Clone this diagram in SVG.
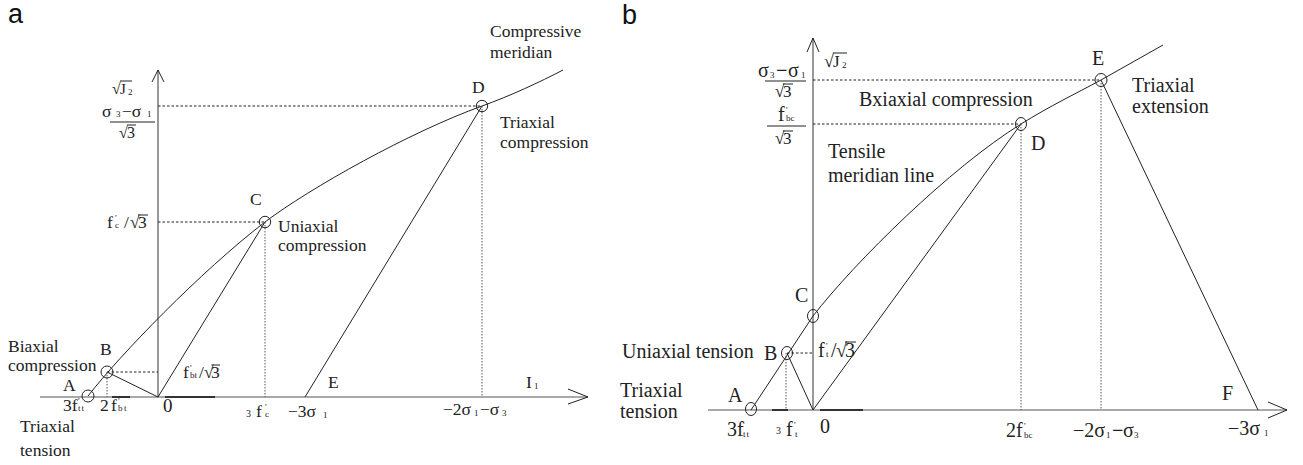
<svg xmlns="http://www.w3.org/2000/svg" width="1303" height="465" viewBox="0 0 1303 465">
<style>
text{font-family:"Liberation Serif","Times New Roman","DejaVu Serif",serif;fill:#222}
.pa text{font-size:17.5px}
.pb text{font-size:20px}
text.lbl{font-family:"Liberation Sans",Arial,sans-serif;font-size:27px;fill:#111}
text.s{font-size:9px}
text.sb{font-size:10px}
.ln{stroke:#222;stroke-width:1;fill:none}
.ax{stroke:#555;stroke-width:1.2;fill:none}
.axd{stroke:#333;stroke-width:2}
.ds{stroke:#222;stroke-width:1;stroke-dasharray:2.5 2}
.dt{stroke:#555;stroke-width:1;stroke-dasharray:1.5 1.5}
.c{fill:none;stroke:#222;stroke-width:1}
</style>
<rect width="1303" height="465" fill="#fff"/>

<g id="panel-a" class="pa">
  <text class="lbl" x="8" y="23">a</text>
  <g id="a-connectors">
    <line class="ax" x1="158" y1="397" x2="158" y2="70"/>
    <polyline class="ln" points="152,82 158,70 164,82"/>
    <line class="ax" x1="40" y1="397" x2="588" y2="397"/>
    <line class="axd" x1="112" y1="397" x2="130" y2="397"/>
    <line class="axd" x1="165" y1="397" x2="215" y2="397"/>
    <polyline class="ln" points="568,389 588,397 568,404"/>
    <path class="ln" d="M88,396 C120,355 200,272 265,222 C310,188 410,132 482,106 C510,96 540,82 563,70"/>
    <line class="ln" x1="107" y1="372" x2="158" y2="397"/>
    <line class="ln" x1="158" y1="397" x2="265" y2="222"/>
    <line class="ln" x1="305" y1="397" x2="482" y2="106"/>
    <line class="ds" x1="158" y1="106" x2="482" y2="106"/>
    <line class="ds" x1="158" y1="222" x2="265" y2="222"/>
    <line class="ds" x1="107" y1="372" x2="158" y2="372"/>
    <line class="dt" x1="107" y1="372" x2="107" y2="397"/>
    <line class="dt" x1="265" y1="222" x2="265" y2="397"/>
    <line class="dt" x1="482" y1="106" x2="482" y2="397"/>
  </g>
  <g id="a-A"><circle class="c" cx="88" cy="396" r="6"/><text x="63" y="391">A</text></g>
  <g id="a-B"><circle class="c" cx="107" cy="372" r="6"/><text x="100" y="355">B</text></g>
  <g id="a-C"><circle class="c" cx="265" cy="222" r="5.7"/><text x="250" y="205">C</text></g>
  <g id="a-D"><circle class="c" cx="482" cy="106" r="5.7"/><text x="472" y="93">D</text></g>
  <g id="a-E"><text x="328" y="388">E</text></g>
  <g id="a-labels">
    <text x="490" y="37">Compressive</text>
    <text x="490" y="58">meridian</text>
    <text x="500" y="128">Triaxial</text>
    <text x="500" y="148">compression</text>
    <text x="278" y="232">Uniaxial</text>
    <text x="278" y="251">compression</text>
    <text x="8" y="352">Biaxial</text>
    <text x="8" y="371">compression</text>
    <text x="20" y="432">Triaxial</text>
    <text x="20" y="456">tension</text>
  </g>
  <g id="a-math">
    <text x="112" y="94" style="font-size:16px">√</text>
    <line class="ln" x1="120" y1="81" x2="132" y2="81"/>
    <text x="120" y="94" style="font-size:15px">J</text>
    <text class="s" x="128" y="95">2</text>
    <text x="102" y="117">σ</text>
    <text class="s" x="116" y="117">3</text>
    <text x="122" y="117">−σ</text>
    <text class="s" x="147" y="117">1</text>
    <line class="ln" x1="110" y1="122" x2="155" y2="122"/>
    <text x="119" y="138" style="font-size:16px">√</text>
    <line class="ln" x1="127" y1="125" x2="136" y2="125"/>
    <text x="127" y="138" style="font-size:16px">3</text>
    <text x="107" y="228">f</text>
    <text class="s" x="115" y="221">'</text>
    <text class="s" x="115" y="228">c</text>
    <text x="124" y="228">/</text>
    <text x="130" y="228">√</text>
    <line class="ln" x1="138" y1="215" x2="148" y2="215"/>
    <text x="138" y="228">3</text>
    <text x="183" y="378">f</text>
    <text class="s" x="190" y="371">'</text>
    <text class="s" x="190" y="378">bt</text>
    <text x="199" y="378">/</text>
    <text x="204" y="378">√</text>
    <line class="ln" x1="211.5" y1="365" x2="220" y2="365"/>
    <text x="211" y="378">3</text>
    <text x="63" y="411">3f</text>
    <text class="s" x="78" y="404">'</text>
    <text class="s" x="78" y="411" letter-spacing="1">tt</text>
    <text x="100" y="411">2</text>
    <text x="111" y="411">f</text>
    <text class="s" x="118" y="404">'</text>
    <text class="s" x="118" y="411" letter-spacing="1.5">bt</text>
    <text x="163" y="412" style="font-size:19px">0</text>
    <text class="sb" x="246" y="417">3</text>
    <text x="256" y="417">f</text>
    <text class="s" x="265" y="410">'</text>
    <text class="s" x="265" y="417">c</text>
    <text x="288" y="417">−3σ</text>
    <text class="s" x="323" y="418">1</text>
    <text x="443" y="415">−2σ</text>
    <text class="s" x="474" y="416">1</text>
    <text x="480" y="415">−σ</text>
    <text class="s" x="502" y="416">3</text>
    <text x="526" y="388">I</text>
    <text class="s" x="534" y="389">1</text>
  </g>
</g>

<g id="panel-b" class="pb">
  <text class="lbl" x="622" y="24">b</text>
  <g id="b-connectors">
    <line class="ax" x1="813" y1="410" x2="813" y2="38"/>
    <polyline class="ln" points="807,52 813,38 819,52"/>
    <line class="ax" x1="708" y1="410" x2="1287" y2="410"/>
    <line class="axd" x1="772" y1="410" x2="788" y2="410"/>
    <line class="axd" x1="820" y1="410" x2="863" y2="410"/>
    <polyline class="ln" points="1268,402 1287,410 1268,418"/>
    <path class="ln" d="M751,410 L813,316 C855,262 950,168 1021,124 C1050,106 1075,94 1101,80 L1163,45"/>
    <line class="ln" x1="787" y1="353" x2="813" y2="410"/>
    <line class="ln" x1="813" y1="410" x2="1021" y2="124"/>
    <line class="ln" x1="1101" y1="80" x2="1258" y2="410"/>
    <line class="ds" x1="813" y1="80" x2="1101" y2="80"/>
    <line class="ds" x1="813" y1="124" x2="1021" y2="124"/>
    <line class="ds" x1="787" y1="353" x2="813" y2="353"/>
    <line class="dt" x1="786" y1="353" x2="786" y2="410"/>
    <line class="dt" x1="1021" y1="124" x2="1021" y2="410"/>
    <line class="dt" x1="1101" y1="80" x2="1101" y2="410"/>
  </g>
  <g id="b-A"><ellipse class="c" cx="751" cy="409" rx="5.5" ry="6.5"/><text x="728" y="402">A</text></g>
  <g id="b-B"><ellipse class="c" cx="787" cy="353" rx="5.5" ry="6.5"/><text x="764" y="360">B</text></g>
  <g id="b-C"><ellipse class="c" cx="813" cy="316" rx="5.5" ry="6.5"/><text x="795" y="302">C</text></g>
  <g id="b-D"><ellipse class="c" cx="1021" cy="124" rx="5.5" ry="6.5"/><text x="1031" y="150">D</text></g>
  <g id="b-E"><ellipse class="c" cx="1101" cy="80" rx="6" ry="6.5"/><text x="1092" y="65">E</text></g>
  <g id="b-F"><text x="1222" y="400">F</text></g>
  <g id="b-labels">
    <text x="859" y="106">Bxiaxial compression</text>
    <text x="828" y="158">Tensile</text>
    <text x="828" y="182">meridian line</text>
    <text x="1132" y="92">Triaxial</text>
    <text x="1132" y="113">extension</text>
    <text x="622" y="358">Uniaxial tension</text>
    <text x="620" y="397">Triaxial</text>
    <text x="620" y="418">tension</text>
  </g>
  <g id="b-math">
    <text x="824" y="67" style="font-size:18px">√</text>
    <line class="ln" x1="833" y1="53" x2="847" y2="53"/>
    <text x="833" y="67" style="font-size:17px">J</text>
    <text class="s" x="842" y="68">2</text>
    <text x="758" y="77">σ</text>
    <text class="s" x="770" y="78">3</text>
    <text x="776" y="77" style="font-weight:bold">−</text>
    <text x="788" y="77">σ</text>
    <text class="s" x="801" y="78">1</text>
    <line class="ln" x1="765" y1="81" x2="806" y2="81"/>
    <text x="775" y="97" style="font-size:17px">√</text>
    <line class="ln" x1="783" y1="84" x2="793" y2="84"/>
    <text x="783" y="97" style="font-size:17px">3</text>
    <text x="778" y="121">f</text>
    <text class="s" x="786" y="113">'</text>
    <text class="s" x="786" y="121">bc</text>
    <line class="ln" x1="767" y1="126" x2="806" y2="126"/>
    <text x="775" y="144" style="font-size:17px">√</text>
    <line class="ln" x1="783" y1="131" x2="793" y2="131"/>
    <text x="783" y="144" style="font-size:17px">3</text>
    <text x="818" y="357">f</text>
    <text class="s" x="826" y="349">'</text>
    <text class="s" x="826" y="357">t</text>
    <text x="831" y="357">/</text>
    <text x="836" y="357">√</text>
    <line class="ln" x1="845" y1="342" x2="856" y2="342"/>
    <text x="845" y="357">3</text>
    <text x="727" y="436">3f</text>
    <text class="s" x="743" y="428">'</text>
    <text class="s" x="743" y="437" letter-spacing="1">tt</text>
    <text class="sb" x="776" y="434">3</text>
    <text x="786" y="436">f</text>
    <text class="s" x="794" y="428">'</text>
    <text class="s" x="795" y="437">t</text>
    <text x="820" y="433">0</text>
    <text x="1006" y="437">2f</text>
    <text class="s" x="1024" y="429">'</text>
    <text class="s" x="1024" y="438">bc</text>
    <text x="1073" y="437">−2σ</text>
    <text class="s" x="1106" y="438">1</text>
    <text x="1112" y="437" style="font-weight:bold">−</text>
    <text x="1123" y="437">σ</text>
    <text class="s" x="1134" y="438">3</text>
    <text x="1228" y="435">−3σ</text>
    <text class="s" x="1264" y="436">1</text>
  </g>
</g>
</svg>
